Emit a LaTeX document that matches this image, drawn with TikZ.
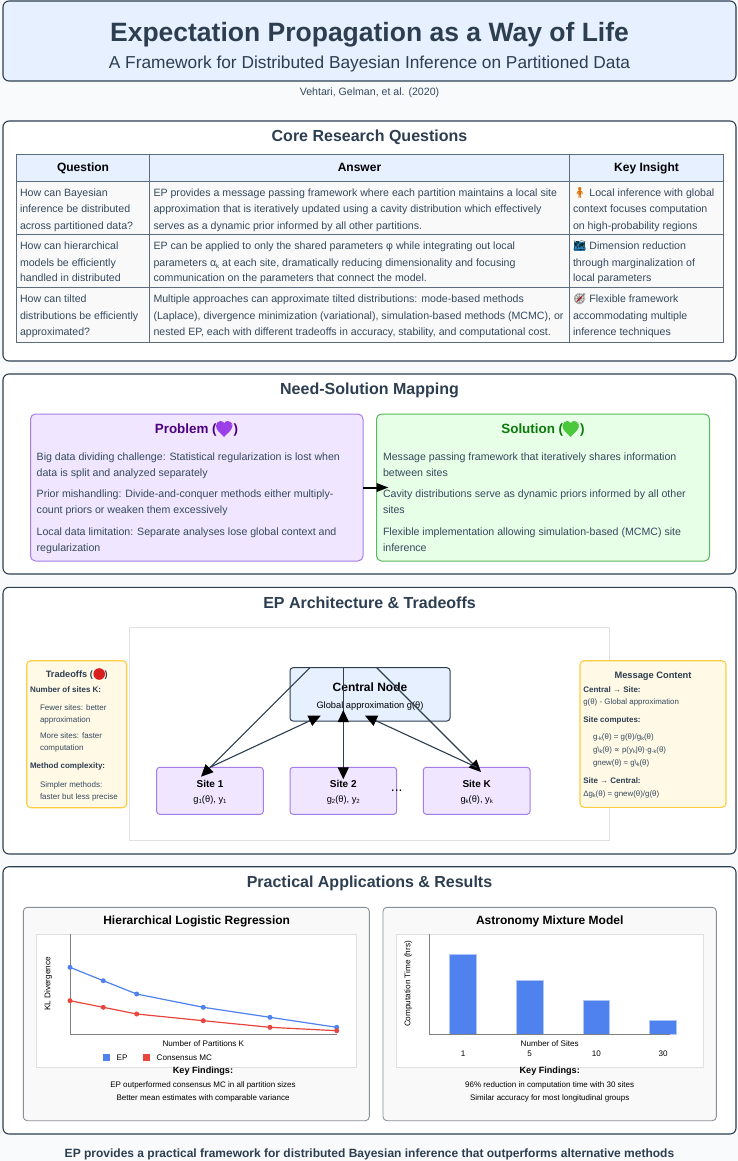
\documentclass[tikz,border=0pt]{standalone}
\usepackage{fontspec}
\usetikzlibrary{arrows.meta}
\setmainfont{Liberation Sans}
\newfontfamily\emo{Noto Emoji}
\newfontfamily\djv{DejaVu Sans}
\definecolor{ink}{HTML}{2C3E50}
\definecolor{body}{HTML}{34495E}
\definecolor{pagebg}{HTML}{F8FAFC}
\definecolor{bluefill}{HTML}{E6F0FF}
\definecolor{purplefill}{HTML}{F0E6FF}
\definecolor{purpleline}{HTML}{A67EE8}
\definecolor{greenfill}{HTML}{E6FFE6}
\definecolor{greenline}{HTML}{5CB85C}
\definecolor{yellowfill}{HTML}{FFF9E6}
\definecolor{yellowline}{HTML}{FFCC44}
\definecolor{cardfill}{HTML}{F9F9F9}
\definecolor{cardline}{HTML}{888F96}
\definecolor{epblue}{HTML}{4F81EF}
\definecolor{cmred}{HTML}{E8453C}
\definecolor{tableline}{HTML}{5D6D7E}
\definecolor{heartp}{HTML}{9B3FE8}
\definecolor{heartg}{HTML}{4CC83C}
\definecolor{ballred}{HTML}{D81E1E}
\definecolor{mapblue}{HTML}{2F7FB8}
\definecolor{probtitle}{HTML}{4B0082}
\definecolor{soltitle}{HTML}{0A7A0A}
\newcount\tcnt
% text line: anchor, x, y (visual centre), size, options, text
\newcommand{\T}[6]{\global\advance\tcnt by 1
  \node[anchor=#1,inner sep=0pt,outer sep=0pt,#5] (t\the\tcnt) at (#2,#3+#4*0.36) {\fontsize{#4}{#4}\selectfont #6};}
% box from corners
\newcommand{\B}[6]{\node[#1,anchor=north west,inner sep=0pt,outer sep=0pt,minimum width={(#5-#3)*1pt},minimum height={(#6-#4)*1pt}] (#2) at (#3,#4) {};}
\newcommand{\lw}[1]{\raisebox{-1.5pt}{\fontsize{6}{6}\selectfont #1}}
\newcommand{\lws}[1]{\raisebox{-1pt}{\fontsize{5.5}{5.5}\selectfont #1}}
% solid heart: colour, cx, cy
\newcommand{\heartshape}[3]{\fill[#1,shift={(#2,#3)}] (0,8) .. controls (-3,4.5) and (-8,1.5) .. (-8,-3) .. controls (-8,-6) and (-5.5,-8) .. (-3.5,-8) .. controls (-2,-8) and (-.7,-7) .. (0,-5.5) .. controls (.7,-7) and (2,-8) .. (3.5,-8) .. controls (5.5,-8) and (8,-6) .. (8,-3) .. controls (8,1.5) and (3,4.5) .. (0,8) -- cycle;}
\tikzset{
  x=1pt,y=-1pt,
  section/.style={draw=ink,line width=1.1pt,fill=white,rounded corners=6pt},
  titlebox/.style={draw=ink,line width=1.1pt,fill=bluefill,rounded corners=6pt},
  headcell/.style={draw=tableline,line width=.9pt,fill=bluefill},
  cell/.style={draw=tableline,line width=.9pt,fill=cardfill},
  probbox/.style={draw=purpleline,line width=1pt,fill=purplefill,rounded corners=5pt},
  solbox/.style={draw=greenline,line width=1pt,fill=greenfill,rounded corners=5pt},
  notebox/.style={draw=yellowline,line width=1.1pt,fill=yellowfill,rounded corners=4pt},
  sitebox/.style={draw=purpleline,line width=1pt,fill=purplefill,rounded corners=3pt},
  centralbox/.style={draw=ink,line width=1pt,fill=bluefill,rounded corners=3pt},
  plain/.style={draw=black!12,line width=1pt,fill=white},
  card/.style={draw=cardline,line width=.9pt,fill=cardfill,rounded corners=4pt},
  link/.style={draw=ink,line width=1.1pt,-{Triangle[length=12pt,width=11pt,color=black]}},
  axisline/.style={draw=black!50,line width=.9pt},
  bluept/.style={circle,fill=epblue,inner sep=0pt,minimum size=5pt},
  redpt/.style={circle,fill=cmred,inner sep=0pt,minimum size=5pt},
  barbox/.style={fill=epblue,draw=epblue!45!white,line width=.7pt},
}
\begin{document}
\begin{tikzpicture}
\useasboundingbox (0,0) rectangle (738,1161);
\fill[pagebg] (0,0) rectangle (738,1161);

% header
\B{titlebox}{head}{3}{1}{736}{81}
\T{base}{369.5}{32}{26.5}{text=ink,font=\bfseries}{Expectation Propagation as a Way of Life}
\T{base}{369.5}{62}{17.3}{text=ink}{A Framework for Distributed Bayesian Inference on Partitioned Data}
\T{base}{369.5}{91.5}{10.6}{text=body}{Vehtari, Gelman, et al. (2020)}

% section 1
\B{section}{sec1}{3}{121}{736}{361}
\T{base}{369.5}{136}{16}{text=ink,font=\bfseries}{Core Research Questions}
\B{headcell}{h1}{16.5}{154}{149.5}{181}
\B{headcell}{h2}{149.5}{154}{569.5}{181}
\B{headcell}{h3}{569.5}{154}{723}{181}
\B{cell}{r1a}{16.5}{181}{149.5}{234}
\B{cell}{r1b}{149.5}{181}{569.5}{234}
\B{cell}{r1c}{569.5}{181}{723}{234}
\B{cell}{r2a}{16.5}{234}{149.5}{287}
\B{cell}{r2b}{149.5}{234}{569.5}{287}
\B{cell}{r2c}{569.5}{234}{723}{287}
\B{cell}{r3a}{16.5}{287}{149.5}{342}
\B{cell}{r3b}{149.5}{287}{569.5}{342}
\B{cell}{r3c}{569.5}{287}{723}{342}
\T{base}{83}{167}{12}{font=\bfseries}{Question}
\T{base}{359.5}{167}{12}{font=\bfseries}{Answer}
\T{base}{646.5}{167}{12}{font=\bfseries}{Key Insight}
\T{base west}{20}{193}{10.6}{text=body}{How can Bayesian}
\T{base west}{20}{209}{10.6}{text=body}{inference be distributed}
\T{base west}{20}{226}{10.6}{text=body}{across partitioned data?}
\T{base west}{20}{246}{10.6}{text=body}{How can hierarchical}
\T{base west}{20}{263}{10.6}{text=body}{models be efficiently}
\T{base west}{20}{278}{10.6}{text=body}{handled in distributed}
\T{base west}{20}{299}{10.6}{text=body}{How can tilted}
\T{base west}{20}{316}{10.6}{text=body}{distributions be efficiently}
\T{base west}{20}{332}{10.6}{text=body}{approximated?}
\T{base west}{153.5}{193}{10.6}{text=body}{EP provides a message passing framework where each partition maintains a local site}
\T{base west}{153.5}{209}{10.6}{text=body}{approximation that is iteratively updated using a cavity distribution which effectively}
\T{base west}{153.5}{226}{10.6}{text=body}{serves as a dynamic prior informed by all other partitions.}
\T{base west}{153.5}{246}{10.6}{text=body}{EP can be applied to only the shared parameters φ while integrating out local}
\T{base west}{153.5}{263}{10.6}{text=body}{parameters α\lw{k} at each site, dramatically reducing dimensionality and focusing}
\T{base west}{153.5}{278}{10.6}{text=body}{communication on the parameters that connect the model.}
\T{base west}{153.5}{299}{10.6}{text=body}{Multiple approaches can approximate tilted distributions: mode-based methods}
\T{base west}{153.5}{316}{10.6}{text=body}{(Laplace), divergence minimization (variational), simulation-based methods (MCMC), or}
\T{base west}{153.5}{332}{10.6}{text=body}{nested EP, each with different tradeoffs in accuracy, stability, and computational cost.}
\fill[mapblue] (573.5,242) rectangle (585,250.5);
\fill[black!15] (579.5,299) circle (5.5);
\T{base west}{573}{193}{10.6}{text=body}{{\emo\textcolor{orange!85!black}{🧍}} Local inference with global}
\T{base west}{573}{209}{10.6}{text=body}{context focuses computation}
\T{base west}{573}{226}{10.6}{text=body}{on high-probability regions}
\T{base west}{573}{246}{10.6}{text=body}{{\emo\textcolor{black!70!teal}{🗺}} Dimension reduction}
\T{base west}{573}{263}{10.6}{text=body}{through marginalization of}
\T{base west}{573}{278}{10.6}{text=body}{local parameters}
\T{base west}{573}{299}{10.6}{text=body}{{\emo\textcolor{black!65}{🧭}} Flexible framework}
\T{base west}{573}{316}{10.6}{text=body}{accommodating multiple}
\T{base west}{573}{332}{10.6}{text=body}{inference techniques}
\draw[red!75!black,line width=1pt] (577,301.5) -- (582,296.5);

% section 2
\B{section}{sec2}{3}{374}{736}{574}
\T{base}{369.5}{389}{16}{text=ink,font=\bfseries}{Need-Solution Mapping}
\B{probbox}{prob}{30.5}{414}{363}{561}
\B{solbox}{sol}{376.5}{414}{709.5}{561}
\coordinate (soltip) at (388.5,487.5);
\draw[line width=2pt,black,-{Triangle[length=12pt,width=8.5pt]}] (prob.east) -- (soltip);
\heartshape{heartp}{224}{429}
\T{base}{196.5}{429}{13.4}{text=probtitle,font=\bfseries}{Problem ({\emo\textcolor{heartp}{💜}})}
\T{base west}{36.7}{456.7}{10.6}{text=body}{Big data dividing challenge: Statistical regularization is lost when}
\T{base west}{36.7}{472.3}{10.6}{text=body}{data is split and analyzed separately}
\T{base west}{36.7}{493.3}{10.6}{text=body}{Prior mishandling: Divide-and-conquer methods either multiply-}
\T{base west}{36.7}{509.3}{10.6}{text=body}{count priors or weaken them excessively}
\T{base west}{36.7}{531.3}{10.6}{text=body}{Local data limitation: Separate analyses lose global context and}
\T{base west}{36.7}{547.3}{10.6}{text=body}{regularization}
\heartshape{heartg}{570.5}{429}
\T{base}{543}{429}{13.4}{text=soltitle,font=\bfseries}{Solution ({\emo\textcolor{heartg}{💚}})}
\T{base west}{383}{456.7}{10.6}{text=body}{Message passing framework that iteratively shares information}
\T{base west}{383}{472.3}{10.6}{text=body}{between sites}
\T{base west}{383}{493.3}{10.6}{text=body}{Cavity distributions serve as dynamic priors informed by all other}
\T{base west}{383}{509.3}{10.6}{text=body}{sites}
\T{base west}{383}{531.3}{10.6}{text=body}{Flexible implementation allowing simulation-based (MCMC) site}
\T{base west}{383}{547.3}{10.6}{text=body}{inference}

% section 3
\B{section}{sec3}{3}{587.3}{736}{854}
\T{base}{369.5}{603}{16}{text=ink,font=\bfseries}{EP Architecture \& Tradeoffs}
\B{plain}{diagram}{129.5}{627.5}{609.5}{840}
\B{notebox}{trade}{26.7}{660.7}{126.7}{807.7}
\B{notebox}{msg}{580}{660.7}{726}{807.3}
\B{centralbox}{central}{290}{667.7}{450}{721}
\B{sitebox}{site1}{156.7}{767.3}{263.3}{814.3}
\B{sitebox}{site2}{290}{767.3}{396.7}{814.3}
\B{sitebox}{siteK}{423.3}{767.3}{530}{814.3}
\fill[ballred] (99.2,674) circle (5.8);
\T{base}{76.7}{674}{9.2}{text=ink,font=\bfseries}{Tradeoffs ({\emo\textcolor{ballred}{🔴}})}
\T{base west}{30}{690}{8}{text=ink,font=\bfseries}{Number of sites K:}
\T{base west}{40}{708}{8}{text=body}{Fewer sites: better}
\T{base west}{40}{720}{8}{text=body}{approximation}
\T{base west}{40}{736}{8}{text=body}{More sites: faster}
\T{base west}{40}{748}{8}{text=body}{computation}
\T{base west}{30}{766}{8}{text=ink,font=\bfseries}{Method complexity:}
\T{base west}{40}{785}{8}{text=body}{Simpler methods:}
\T{base west}{40}{797}{8}{text=body}{faster but less precise}
\T{base}{653}{675}{9.3}{text=ink,font=\bfseries}{Message Content}
\T{base west}{583.3}{690}{8}{text=ink,font=\bfseries}{Central → Site:}
\T{base west}{583.3}{702}{7.9}{text=body}{g(θ) - Global approximation}
\T{base west}{583.3}{720}{8}{text=ink,font=\bfseries}{Site computes:}
\T{base west}{593}{736.7}{7.9}{text=body}{g\lws{-k}(θ) = g(θ)/g\lws{k}(θ)}
\T{base west}{593}{750}{7.9}{text=body}{g\textbackslash\lws{k}(θ) {\djv ∝} p(y\lws{k}|θ)·g\lws{-k}(θ)}
\T{base west}{593}{762.7}{7.9}{text=body}{gnew(θ) ≈ g\textbackslash\lws{k}(θ)}
\T{base west}{583.3}{781}{8}{text=ink,font=\bfseries}{Site → Central:}
\T{base west}{583.3}{793.7}{7.9}{text=body}{Δg\lws{k}(θ) = gnew(θ)/g(θ)}
\T{base}{370}{686.7}{12}{font=\bfseries}{Central Node}
\T{base}{370}{705}{9.3}{}{Global approximation g(θ)}
\T{base}{210}{784}{10}{font=\bfseries}{Site 1}
\T{base}{210}{799}{9.3}{}{g\lw{1}(θ), y\lw{1}}
\T{base}{343.3}{784}{10}{font=\bfseries}{Site 2}
\T{base}{343.3}{799}{9.3}{}{g\lw{2}(θ), y\lw{2}}
\T{base}{476.7}{784}{10}{font=\bfseries}{Site K}
\T{base}{476.7}{799}{9.3}{}{g\lw{k}(θ), y\lw{k}}
\T{base}{396.7}{786}{14}{}{...}
\coordinate (cA) at (310,667.7);
\coordinate (tipA) at (201,776.7);
\coordinate (fromA) at (210,767.3);
\coordinate (tipAr) at (320.7,715.7);
\coordinate (cB) at (343.3,667.7);
\coordinate (tipB) at (343.3,779.3);
\coordinate (fromB) at (343.3,767.3);
\coordinate (tipBr) at (343.3,710);
\coordinate (cC) at (376.7,667.7);
\coordinate (tipC) at (481,772);
\coordinate (fromC) at (476.7,767.3);
\coordinate (tipCr) at (365,715.7);
\draw[link] (cA) -- (tipA);
\draw[link] (fromA) -- (tipAr);
\draw[link] (cB) -- (tipB);
\draw[link] (fromB) -- (tipBr);
\draw[link] (cC) -- (tipC);
\draw[link] (fromC) -- (tipCr);

% section 4
\B{section}{sec4}{3}{866.7}{736}{1134}
\T{base}{369.5}{882}{16}{text=ink,font=\bfseries}{Practical Applications \& Results}
\B{card}{cardL}{23.3}{907.3}{369.3}{1120.7}
\B{card}{cardR}{383}{907.3}{716.3}{1120.7}
\T{base}{196.7}{920}{12}{font=\bfseries}{Hierarchical Logistic Regression}
\T{base}{549.7}{920}{12}{font=\bfseries}{Astronomy Mixture Model}
\B{plain}{chartL}{36.7}{934}{356.7}{1067.3}
\B{plain}{chartR}{396.7}{934}{703.3}{1067.3}
% line chart
\coordinate (axL0) at (70,934);
\coordinate (axL1) at (70,1034);
\coordinate (axL2) at (336.7,1034);
\draw[axisline] (axL0) -- (axL1) -- (axL2);
\node[bluept] (b1) at (70,967.3) {};
\node[bluept] (b2) at (103.3,980.7) {};
\node[bluept] (b3) at (136.7,994) {};
\node[bluept] (b4) at (203.3,1007.3) {};
\node[bluept] (b5) at (270,1017.3) {};
\node[bluept] (b6) at (336.7,1027.3) {};
\draw[epblue,line width=1.2pt] (b1.center)--(b2.center)--(b3.center)--(b4.center)--(b5.center)--(b6.center);
\node[redpt] (c1) at (70,1000.7) {};
\node[redpt] (c2) at (103.3,1007.3) {};
\node[redpt] (c3) at (136.7,1014) {};
\node[redpt] (c4) at (203.3,1020.7) {};
\node[redpt] (c5) at (270,1027.3) {};
\node[redpt] (c6) at (336.7,1030.7) {};
\draw[cmred,line width=1.2pt] (c1.center)--(c2.center)--(c3.center)--(c4.center)--(c5.center)--(c6.center);
\node[rotate=90,inner sep=0pt,anchor=base] (ylL) at (50.3,984) {\fontsize{8.2}{8.2}\selectfont KL Divergence};
\T{base}{203.3}{1044}{8.1}{}{Number of Partitions K}
\B{fill=epblue}{legA}{103.3}{1054.3}{110}{1061}
\B{fill=cmred}{legB}{143.3}{1054.3}{150}{1061}
\T{base west}{116.7}{1057.7}{8.1}{}{EP}
\T{base west}{156.7}{1057.7}{8.1}{}{Consensus MC}
\T{base}{203}{1070.7}{9.1}{font=\bfseries}{Key Findings:}
\T{base}{203}{1084.3}{8}{}{EP outperformed consensus MC in all partition sizes}
\T{base}{203}{1098}{8}{}{Better mean estimates with comparable variance}
% bar chart
\coordinate (axR0) at (429.7,934);
\coordinate (axR1) at (429.7,1034);
\coordinate (axR2) at (669.7,1034);
\B{barbox}{bar1}{449.7}{954}{476.3}{1034}
\B{barbox}{bar2}{516.3}{980.7}{543}{1034}
\B{barbox}{bar3}{583}{1000.7}{609.7}{1034}
\B{barbox}{bar4}{649.7}{1020.7}{676.3}{1034}
\draw[axisline] (axR0) -- (axR1) -- (axR2);
\node[rotate=90,inner sep=0pt,anchor=base] (ylR) at (410.3,984) {\fontsize{8.2}{8.2}\selectfont Computation Time (hrs)};
\T{base}{549.7}{1044}{8.1}{}{Number of Sites}
\T{base}{463}{1054}{8.1}{}{1}
\T{base}{529.7}{1054}{8.1}{}{5}
\T{base}{596.3}{1054}{8.1}{}{10}
\T{base}{663}{1054}{8.1}{}{30}
\T{base}{549.7}{1070.7}{9.1}{font=\bfseries}{Key Findings:}
\T{base}{549.7}{1084.3}{8}{}{96\% reduction in computation time with 30 sites}
\T{base}{549.7}{1098}{8}{}{Similar accuracy for most longitudinal groups}

% footer
\T{base}{369.5}{1153.3}{12}{text=ink,font=\bfseries}{EP provides a practical framework for distributed Bayesian inference that outperforms alternative methods}
\end{tikzpicture}
\end{document}
